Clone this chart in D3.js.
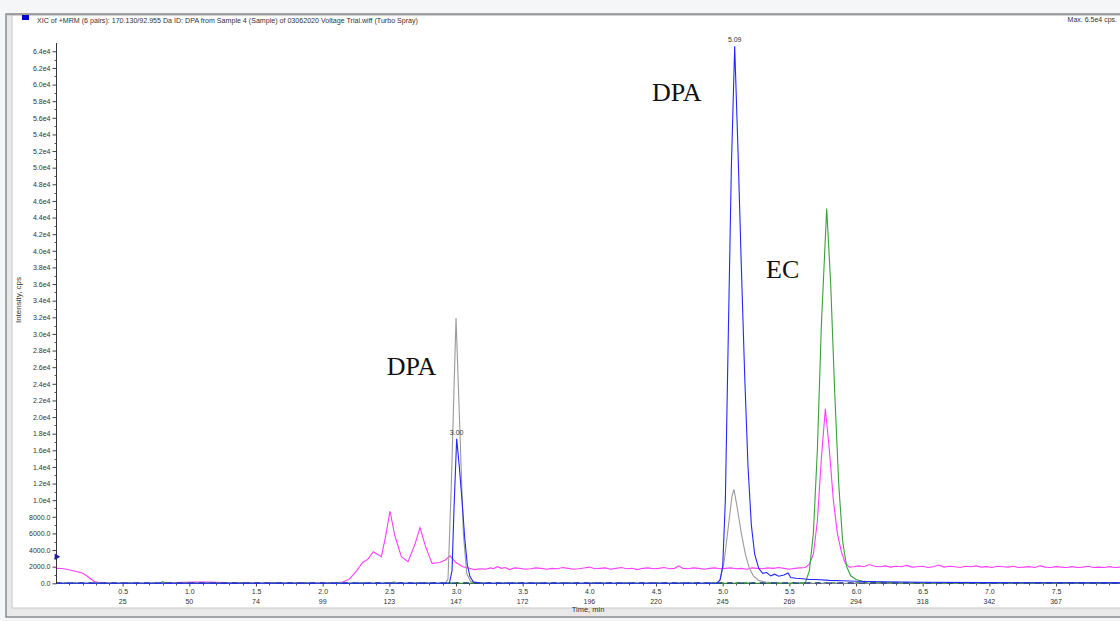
<!DOCTYPE html>
<html>
<head>
<meta charset="utf-8">
<script src="https://cdn.jsdelivr.net/npm/d3@7"></script>
<style>
  body { margin: 0; background: #f4f6f8; }
  svg { display: block; }
  .tick-label { font-family: Arial, "Liberation Sans", sans-serif; font-size: 7px; fill: #333; }
  .note { font-family: "Liberation Serif", "DejaVu Serif", serif; font-size: 26px; fill: #111; }
</style>
</head>
<body>
<div class="xic_chart"></div>
<script>
// ---- data ----
const title = "XIC of +MRM (6 pairs): 170.130/92.955 Da ID: DPA from Sample 4 (Sample) of 03062020 Voltage Trial.wiff (Turbo Spray)"
const maxText = "Max. 6.5e4 cps."

const yTicks = d3.range(0, 64001, 2000)
const xTicks = [0.5, 1.0, 1.5, 2.0, 2.5, 3.0, 3.5, 4.0, 4.5, 5.0, 5.5, 6.0, 6.5, 7.0, 7.5]
const cycleLabels = [25, 50, 74, 99, 123, 147, 172, 196, 220, 245, 269, 294, 318, 342, 367]

// [time (min), intensity (cps)]
const blueDPA = [[0,0],[2.9,0],[2.95,0],[2.97,1500],[2.985,9000],[3.005,17400],[3.025,14000],[3.045,10000],[3.065,5500],[3.085,2200],[3.105,800],[3.13,150],[3.2,0],
  [4.96,0],[4.98,400],[5.0,2000],[5.02,10000],[5.04,28000],[5.065,50000],[5.09,64600],[5.115,52000],[5.14,38000],[5.165,25000],[5.19,14000],[5.215,7000],
  [5.24,3500],[5.27,1800],[5.3,1200],[5.33,1300],[5.36,900],[5.39,1100],[5.42,850],[5.46,1000],[5.49,1250],[5.51,700],[5.55,600],[5.6,550],[5.65,450],
  [5.7,450],[5.8,350],[5.9,300],[6.0,250],[6.2,180],[6.5,120],[7.0,80],[7.5,60],[8.1,50]]

const grayDPA = [[0,0],[2.92,0],[2.94,500],[2.965,12000],[3.0,31900],[3.03,18000],[3.055,6000],[3.08,1200],[3.11,200],[3.2,0],
  [4.95,0],[4.98,400],[5.01,2500],[5.04,6500],[5.07,10500],[5.085,11300],[5.11,9000],[5.14,6000],[5.17,3500],[5.2,1800],[5.23,900],
  [5.27,350],[5.32,150],[5.4,50],[5.5,0],[8.1,0]]

const greenEC = [[0,0],[0.8,0],[0.82,120],[0.84,0],[5.6,0],[5.62,100],[5.65,1500],[5.68,6000],[5.71,16000],[5.74,31000],[5.78,45100],[5.81,36000],
  [5.84,23000],[5.87,12000],[5.9,5000],[5.93,2000],[5.96,900],[6.0,450],[6.05,250],[6.15,100],[6.3,30],[8.1,20]]

const pinkEC = [[0,1800],[0.04,1780],[0.08,1700],[0.12,1550],[0.16,1380],[0.2,1200],[0.23,900],[0.26,550],[0.29,200],[0.33,60],[0.4,20],[0.6,10],
  [0.85,30],[0.95,120],[1.05,160],[1.15,140],[1.3,60],[1.5,20],[1.8,30],[2.0,20],[2.1,60],[2.15,150],[2.2,500],[2.25,1400],[2.3,2500],[2.34,2900],
  [2.38,3800],[2.41,3500],[2.44,3200],[2.47,5500],[2.505,8700],[2.54,5800],[2.59,3200],[2.64,2600],[2.69,4600],[2.73,6700],[2.77,4500],[2.82,2400],
  [2.88,2500],[2.92,2800],[2.955,3300],[3.0,2500],[3.05,2000],[3.1,1800],[3.14,1650],[3.18,1750],[3.22,1700],[3.26,1850],[3.28,1750],[3.31,2000],
  [3.34,1800],[3.37,1900],[3.4,1650],[3.44,1850],[3.48,1800],[3.52,1700],[3.56,1750],[3.6,1850],[3.64,1800],[3.68,1700],[3.72,1800],[3.76,1750],
  [3.8,1900],[3.84,1800],[3.88,1700],[3.92,1750],[3.96,1850],[4.0,1950],[4.04,1750],[4.08,1800],[4.12,1850],[4.16,1700],[4.2,1800],[4.24,1900],
  [4.28,1750],[4.32,1800],[4.36,1650],[4.4,1800],[4.44,1850],[4.48,1750],[4.52,1800],[4.56,1900],[4.6,1750],[4.64,1800],[4.67,2100],[4.7,1800],
  [4.74,1750],[4.78,1850],[4.82,1800],[4.86,1700],[4.9,1800],[4.94,1850],[4.98,1750],[5.02,1800],[5.06,1850],[5.1,1750],[5.14,1800],[5.18,1700],
  [5.22,1850],[5.26,1800],[5.3,1750],[5.34,1850],[5.38,1800],[5.42,1900],[5.46,1800],[5.5,1700],[5.54,1800],[5.58,1850],[5.62,1900],[5.65,2300],
  [5.68,3500],[5.71,7500],[5.74,15000],[5.77,21000],[5.8,16000],[5.83,10000],[5.86,6000],[5.89,3800],[5.92,2400],[5.95,1950],[5.98,2000],
  [6.02,2100],[6.06,2000],[6.1,2250],[6.14,2050],[6.18,2000],[6.22,2100],[6.26,1950],[6.3,2050],[6.34,2000],[6.38,2150],[6.42,1950],[6.46,2000],
  [6.5,2050],[6.54,1900],[6.58,2000],[6.62,2200],[6.66,1950],[6.7,2050],[6.74,2000],[6.78,1900],[6.82,2050],[6.86,2000],[6.9,2100],[6.94,1950],
  [6.98,2000],[7.02,1900],[7.06,2050],[7.1,2000],[7.14,1950],[7.18,2050],[7.22,1900],[7.26,1950],[7.3,2000],[7.34,1900],[7.38,2100],[7.42,1950],
  [7.46,1900],[7.5,2000],[7.54,1950],[7.58,1900],[7.62,2000],[7.66,1900],[7.7,1950],[7.74,2050],[7.78,1900],[7.82,1950],[7.86,1900],[7.9,2000],
  [7.94,1900],[7.98,1950],[8.02,1900],[8.06,1950]]

const baseGreen = [[0,40],[0.78,40],[0.8,180],[0.83,40],[2.5,60],[2.55,150],[2.6,60],[6.0,60],[6.2,120],[6.25,60],[8.1,50]]
const baseNavy = [[0,30],[3.4,30],[5.95,40],[8.1,40]]

const peakLabels = [{ t: 3.005, v: 17400, text: "3.00" }, { t: 5.09, v: 64600, text: "5.09" }]
const notes = [{ t: 2.48, v: 25100, text: "DPA" }, { t: 4.47, v: 58000, text: "DPA" }, { t: 5.325, v: 36700, text: "EC" }]

// ---- drawing ----
const width = 1120
const height = 621

const svg = d3.select(".xic_chart")
  .append("svg")
  .attr("width", width)
  .attr("height", height)

// window frame
svg.append("rect").attr("x", 6).attr("y", 14).attr("width", 1120).attr("height", 603)
  .attr("fill", "#e9e9e9").attr("stroke", "#8c8c8c").attr("stroke-width", 1.5)
svg.append("rect").attr("x", 12).attr("y", 15).attr("width", 1110).attr("height", 593)
  .attr("fill", "#fff").attr("stroke", "#c8c8c8").attr("stroke-width", 1)
svg.append("line").attr("x1", 6).attr("x2", 1120).attr("y1", 14.5).attr("y2", 14.5)
  .attr("stroke", "#9a9a9a").attr("stroke-width", 1.5)

svg.append("rect").attr("x", 22).attr("y", 15).attr("width", 7).attr("height", 5).attr("fill", "#0000c8")
svg.append("text").attr("class", "tick-label").attr("x", 37).attr("y", 23).style("font-size", "7.1px").text(title)
svg.append("text").attr("class", "tick-label").attr("x", 1117).attr("y", 22).attr("text-anchor", "end").text(maxText)

const x = d3.scaleLinear([0, 8], [56, 1122.7])
const y = d3.scaleLinear([0, 65000], [583.3, 43])

// y axis
const yAxis = d3.axisLeft(y).tickValues(yTicks).tickSize(4).tickPadding(2)
  .tickFormat(d => d < 10000 ? d3.format(".1f")(d) : (d / 10000).toFixed(1) + "e4")
const gy = svg.append("g").attr("transform", "translate(56.5,0)").call(yAxis)
gy.selectAll(".tick text").attr("class", "tick-label").attr("font-size", null).attr("font-family", null)
gy.select(".domain").attr("d", `M0,${y(65000)}V${y(0)}`).attr("stroke", "#333")
gy.selectAll(".tick line").attr("stroke", "#444")
svg.append("g").selectAll("line").data(d3.range(1000, 64000, 2000)).join("line")
  .attr("x1", 54.5).attr("x2", 56.5).attr("y1", d => Math.round(y(d)) + 0.5).attr("y2", d => Math.round(y(d)) + 0.5)
  .attr("stroke", "#555")

// x axis
const xAxis = d3.axisBottom(x).tickValues(xTicks).tickSize(3).tickPadding(3).tickFormat(d3.format(".1f"))
const gx = svg.append("g").attr("transform", "translate(0,583.5)").call(xAxis)
gx.selectAll(".tick text").attr("class", "tick-label").attr("font-size", null).attr("font-family", null)
gx.select(".domain").attr("d", `M56,0H1120`).attr("stroke", "#333")
gx.selectAll(".tick line").attr("stroke", "#444")
svg.append("g").selectAll("line").data(d3.range(1, 83).filter(d => d % 5 != 0).map(d => d / 10)).join("line")
  .attr("x1", d => Math.round(x(d)) + 0.5).attr("x2", d => Math.round(x(d)) + 0.5).attr("y1", 583.5).attr("y2", 585.5)
  .attr("stroke", "#555")
svg.append("g").selectAll("text").data(cycleLabels).join("text")
  .attr("class", "tick-label").attr("text-anchor", "middle")
  .attr("x", (d, i) => x(xTicks[i])).attr("y", 604)
  .text(d => d)

svg.append("text").attr("class", "tick-label").attr("x", 588).attr("y", 612).attr("text-anchor", "middle").style("font-size", "7.5px").text("Time, min")
svg.append("text").attr("class", "tick-label").attr("transform", "translate(21,300) rotate(-90)")
  .attr("text-anchor", "middle").style("font-size", "8px").text("Intensity, cps")

// traces
svg.append("clipPath").attr("id", "plot_clip").append("rect").attr("x", 57).attr("y", 30).attr("width", 1070).attr("height", 554)
const line = d3.line().x(d => x(d[0])).y(d => y(d[1]))
const plot = svg.append("g").attr("clip-path", "url(#plot_clip)")

const traces = [
  { data: pinkEC, colour: "#ff3cff" },
  { data: baseGreen, colour: "#1f8a1f", dash: "4,4" },
  { data: grayDPA, colour: "#9a9a9a" },
  { data: greenEC, colour: "#3aa03a" },
  { data: baseNavy, colour: "#1a1aa8", dash: "6,5" },
  { data: blueDPA, colour: "#2626ff" }
]
plot.selectAll("path").data(traces).join("path")
  .attr("d", d => line(d.data))
  .attr("fill", "none")
  .attr("stroke", d => d.colour)
  .attr("stroke-width", 1.1)
  .attr("stroke-dasharray", d => d.dash || null)

// threshold marker
svg.append("path").attr("d", d3.symbol(d3.symbolTriangle, 18)()).attr("fill", "#1a1a9a")
  .attr("transform", `translate(${x(0) + 0.5},${y(3200)}) rotate(90)`)

svg.append("g").selectAll("text").data(peakLabels).join("text")
  .attr("class", "tick-label").attr("text-anchor", "middle")
  .attr("x", d => x(d.t)).attr("y", d => y(d.v) - 4)
  .text(d => d.text)

svg.append("g").selectAll("text").data(notes).join("text")
  .attr("class", "note")
  .attr("x", d => x(d.t)).attr("y", d => y(d.v))
  .text(d => d.text)
</script>
</body>
</html>
